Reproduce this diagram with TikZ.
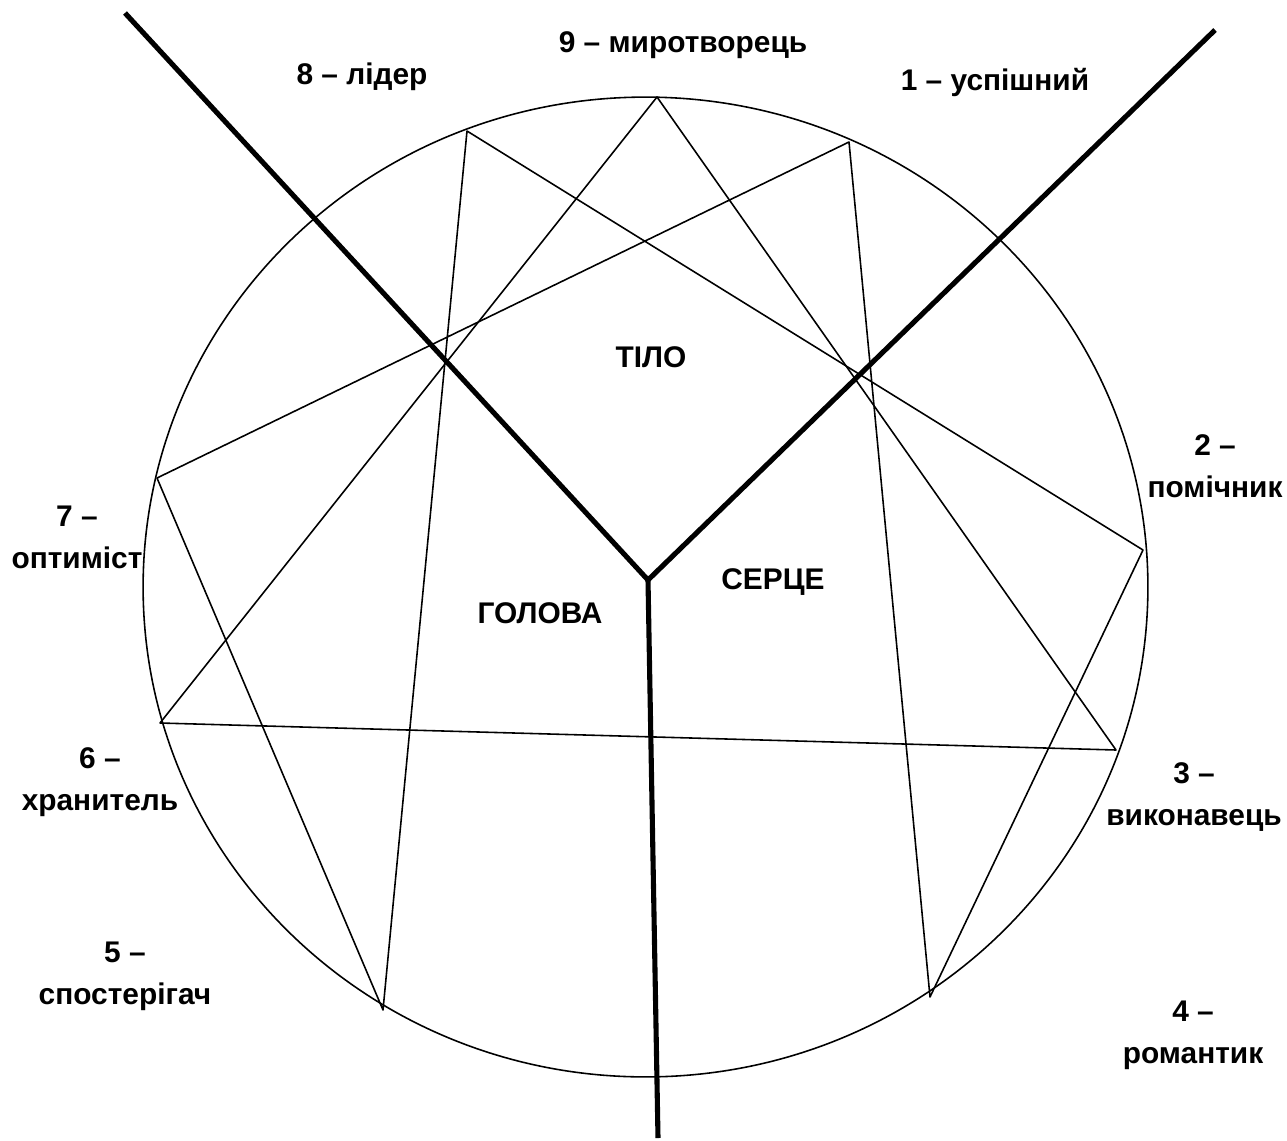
\documentclass[tikz,border=0pt]{standalone}
\usepackage{fontspec}
\setmainfont{Liberation Sans}
\usetikzlibrary{positioning}
\tikzset{
	typelabel/.style={font=\fontsize{17}{24}\selectfont\bfseries, align=center, inner sep=0pt},
	centrelabel/.style={font=\fontsize{17}{24}\selectfont\bfseries, inner sep=0pt},
	starline/.style={line width=0.9pt, line join=round},
	axisline/.style={line width=2.9pt},
}
\begin{document}
\begin{tikzpicture}[x=0.02cm, y=-0.02cm]
	\useasboundingbox (0,0) rectangle (1287,1140);
	% points of the enneagram
	\coordinate (p9) at (657,97);
	\coordinate (p1) at (849,142);
	\coordinate (p2) at (1143,550);
	\coordinate (p3) at (1116,750);
	\coordinate (p4) at (930,997);
	\coordinate (p5) at (383,1010);
	\coordinate (p6) at (160,723);
	\coordinate (p7) at (157,478);
	\coordinate (p8) at (467,131);
	\draw[line width=0.9pt] (645.5,587) ellipse [x radius=10.05cm, y radius=9.8cm];
	\draw[starline] (p9) -- (p3) -- (p6) -- cycle;
	\draw[starline] (p1) -- (p4) -- (p2) -- (p8) -- (p5) -- (p7) -- cycle;
	% centres
	\coordinate (hub) at (648,580);
	\coordinate (endL) at (125,13);
	\coordinate (endR) at (1215,30);
	\coordinate (endB) at (658,1138);
	\draw[axisline] (endL) -- (hub) -- (endR);
	\draw[axisline] (hub) -- (endB);
	\node[centrelabel] (tilo) at (651,357) {ТІЛО};
	\node[centrelabel] (serce) at (773,582) {СЕРЦЕ};
	\node[centrelabel] (holova) at (540,613) {ГОЛОВА};
	% type names
	\node[typelabel] (t9) at (683,45) {9 – миротворець};
	\node[typelabel] (t8) at (362,77) {8 – лідер};
	\node[typelabel] (t1) at (995,82) {1 – успішний};
	\node[typelabel] (t2) at (1215,466) {2 –\\помічник};
	\node[typelabel] (t7) at (77,537) {7 –\\оптиміст};
	\node[typelabel] (t6) at (100,782) {6 –\\хранитель};
	\node[typelabel] (t3) at (1194,797) {3 –\\виконавець};
	\node[typelabel] (t5) at (125,976) {5 –\\спостерігач};
	\node[typelabel] (t4) at (1193,1035) {4 –\\романтик};
\end{tikzpicture}
\end{document}
